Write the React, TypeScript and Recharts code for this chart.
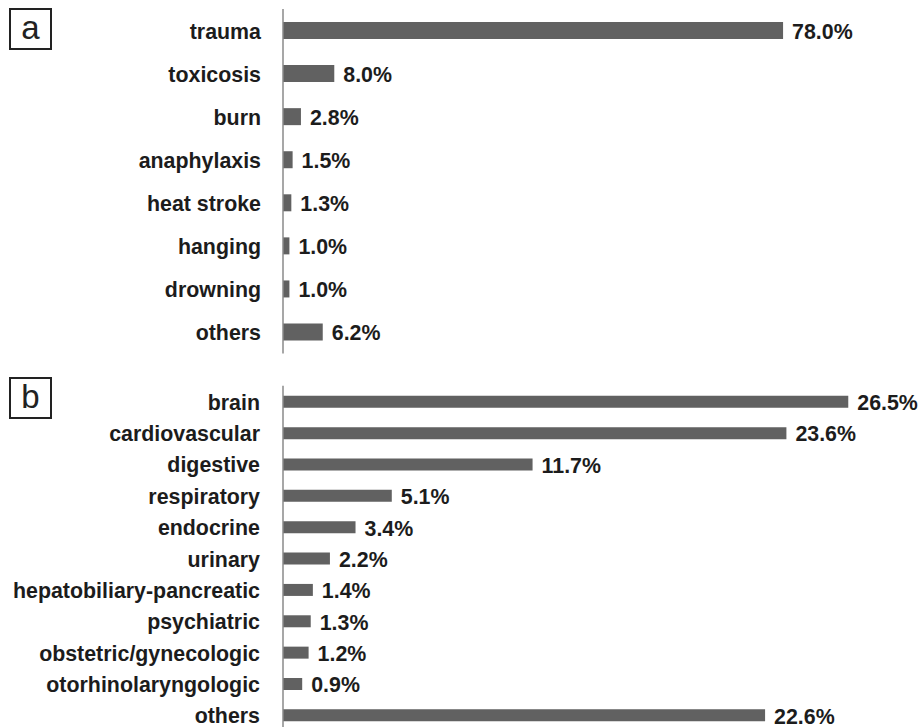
import React from 'react';
import { BarChart, Bar, XAxis, YAxis, LabelList } from 'recharts';

const FONT = '"Liberation Sans", Arial, Helvetica, sans-serif';
const BAR_COLOR = '#616161';
const TEXT_COLOR = '#1c1c1c';
const AXIS_COLOR = '#8a8a8a';
const FONT_SIZE = 23;
const SQUEEZE = 0.93; // the original lettering is a little narrower than Arial

// panel a - causes
const causeNames = ['trauma', 'toxicosis', 'burn', 'anaphylaxis', 'heat stroke', 'hanging', 'drowning', 'others'];
const causeValues = [78.0, 8.0, 2.8, 1.5, 1.3, 1.0, 1.0, 6.2];

// panel b - organ systems
const organNames = [
  'brain',
  'cardiovascular',
  'digestive',
  'respiratory',
  'endocrine',
  'urinary',
  'hepatobiliary-pancreatic',
  'psychiatric',
  'obstetric/gynecologic',
  'otorhinolaryngologic',
  'others',
];
const organValues = [26.5, 23.6, 11.7, 5.1, 3.4, 2.2, 1.4, 1.3, 1.2, 0.9, 22.6];

const causeData = causeNames.map((name, i) => ({ name, value: causeValues[i] }));
const organData = organNames.map((name, i) => ({ name, value: organValues[i] }));

function NarrowText({ x, y, anchor, children }: { x: number; y: number; anchor: 'start' | 'end'; children: any }) {
  return (
    <g transform={`translate(${x},${y})`}>
      <text
        transform={`scale(${SQUEEZE},1)`}
        textAnchor={anchor}
        dy="0.36em"
        fill={TEXT_COLOR}
        fontSize={FONT_SIZE}
        fontWeight={700}
        fontFamily={FONT}
      >
        {children}
      </text>
    </g>
  );
}

const CategoryTick = (props: any) => (
  <NarrowText x={props.x} y={props.y} anchor="end">
    {props.payload.value}
  </NarrowText>
);

const ValueLabel = (props: any) => {
  const { x, y, width, height, value } = props;
  return (
    <NarrowText x={Number(x) + Number(width) + 9} y={Number(y) + Number(height) / 2} anchor="start">
      {`${Number(value).toFixed(1)}%`}
    </NarrowText>
  );
};

function PanelBox({ letter, top }: { letter: string; top: number }) {
  return (
    <div
      style={{
        position: 'absolute',
        left: 9,
        top,
        width: 43,
        height: 42,
        boxSizing: 'border-box',
        border: '2px solid #222',
        display: 'flex',
        alignItems: 'center',
        justifyContent: 'center',
        fontFamily: FONT,
        fontSize: 33,
        lineHeight: 1,
        color: '#222',
        paddingBottom: 3,
      }}
    >
      {letter}
    </div>
  );
}

export default function App() {
  return (
    <div
      style={{
        position: 'absolute',
        left: 0,
        top: 0,
        width: 919,
        height: 727,
        overflow: 'hidden',
        background: '#fff',
      }}
    >
      {/* a: causes */}
      <div style={{ position: 'absolute', left: 0, top: 0 }}>
        <BarChart
          width={919}
          height={362}
          data={causeData}
          layout="vertical"
          margin={{ top: 9, right: 59, bottom: 8.4, left: 0 }}
          barCategoryGap={0}
        >
          <XAxis type="number" domain={[0, 90]} hide />
          <YAxis
            type="category"
            dataKey="name"
            width={283}
            tickLine={false}
            tickSize={0}
            tickMargin={22}
            axisLine={{ stroke: AXIS_COLOR, strokeWidth: 1.5 }}
            tick={<CategoryTick />}
            interval={0}
          />
          <Bar dataKey="value" fill={BAR_COLOR} barSize={17} isAnimationActive={false}>
            <LabelList dataKey="value" content={<ValueLabel />} />
          </Bar>
        </BarChart>
      </div>

      {/* b: organ systems */}
      <div style={{ position: 'absolute', left: 0, top: 370 }}>
        <BarChart
          width={919}
          height={365}
          data={organData}
          layout="vertical"
          margin={{ top: 15.8, right: 17.4, bottom: 4.3, left: 0 }}
          barCategoryGap={0}
        >
          <XAxis type="number" domain={[0, 29]} hide />
          <YAxis
            type="category"
            dataKey="name"
            width={283}
            tickLine={false}
            tickSize={0}
            tickMargin={23}
            axisLine={{ stroke: AXIS_COLOR, strokeWidth: 1.5 }}
            tick={<CategoryTick />}
            interval={0}
          />
          <Bar dataKey="value" fill={BAR_COLOR} barSize={12} isAnimationActive={false}>
            <LabelList dataKey="value" content={<ValueLabel />} />
          </Bar>
        </BarChart>
      </div>

      <PanelBox letter="a" top={8} />
      <PanelBox letter="b" top={377} />
    </div>
  );
}
